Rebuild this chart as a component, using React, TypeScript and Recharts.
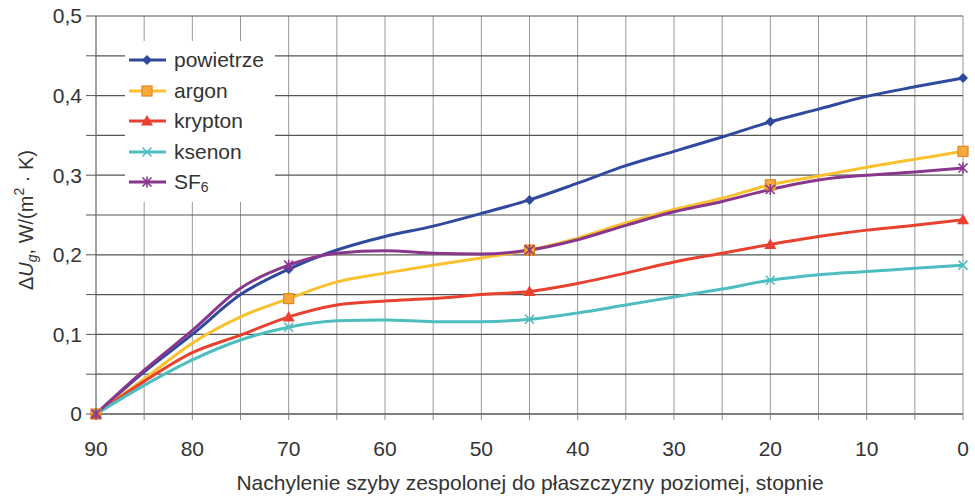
import { LineChart, Line, XAxis, YAxis, CartesianGrid, Legend } from "recharts";

const angles = [90, 85, 80, 75, 70, 65, 60, 55, 50, 45, 40, 35, 30, 25, 20, 15, 10, 5, 0];
const powietrze = [0, 0.053, 0.1, 0.15, 0.182, 0.206, 0.223, 0.236, 0.252, 0.269, 0.29, 0.312, 0.33, 0.348, 0.367, 0.383, 0.399, 0.411, 0.422];
const argon = [0, 0.044, 0.089, 0.122, 0.145, 0.166, 0.177, 0.187, 0.196, 0.206, 0.221, 0.24, 0.257, 0.271, 0.288, 0.299, 0.31, 0.32, 0.33];
const krypton = [0, 0.041, 0.077, 0.099, 0.122, 0.137, 0.142, 0.145, 0.15, 0.154, 0.164, 0.177, 0.191, 0.202, 0.213, 0.223, 0.231, 0.237, 0.244];
const ksenon = [0, 0.036, 0.068, 0.093, 0.109, 0.117, 0.118, 0.116, 0.116, 0.119, 0.127, 0.137, 0.147, 0.157, 0.168, 0.175, 0.179, 0.183, 0.187];
const sf6 = [0, 0.055, 0.105, 0.158, 0.187, 0.202, 0.205, 0.202, 0.201, 0.206, 0.219, 0.237, 0.254, 0.267, 0.282, 0.294, 0.3, 0.304, 0.309];

// only these angles carry a marker in the original
const markerAngles = [90, 70, 45, 20, 0];
const xTicks = [90, 85, 80, 75, 70, 65, 60, 55, 50, 45, 40, 35, 30, 25, 20, 15, 10, 5, 0];
const yTicks = [0, 0.05, 0.1, 0.15, 0.2, 0.25, 0.3, 0.35, 0.4, 0.45, 0.5];

const data = angles.map((angle, i) => ({
  angle,
  powietrze: powietrze[i],
  argon: argon[i],
  krypton: krypton[i],
  ksenon: ksenon[i],
  sf6: sf6[i],
}));

const series = [
  { key: "powietrze", name: "powietrze", color: "#2f4a9d", shape: "diamond" },
  { key: "argon", name: "argon", color: "#fbc02d", shape: "square" },
  { key: "krypton", name: "krypton", color: "#e8412f", shape: "triangle" },
  { key: "ksenon", name: "ksenon", color: "#4dbdbf", shape: "cross" },
  { key: "sf6", name: "SF6", color: "#88378d", shape: "star" },
];

const Marker = ({ shape, x, y, color }: { shape: string; x: number; y: number; color: string }) => {
  if (shape === "diamond")
    return <polygon points={`${x},${y - 5} ${x + 5},${y} ${x},${y + 5} ${x - 5},${y}`} fill={color} />;
  if (shape === "square")
    return <rect x={x - 5} y={y - 5} width={10} height={10} fill="#f8a93c" stroke="#e3861c" strokeWidth={1.2} />;
  if (shape === "triangle")
    return <polygon points={`${x},${y - 6} ${x + 6},${y + 4.5} ${x - 6},${y + 4.5}`} fill={color} />;
  if (shape === "cross")
    return (
      <g stroke={color} strokeWidth={1.6}>
        <line x1={x - 4.5} y1={y - 4.5} x2={x + 4.5} y2={y + 4.5} />
        <line x1={x - 4.5} y1={y + 4.5} x2={x + 4.5} y2={y - 4.5} />
      </g>
    );
  return (
    <g stroke={color} strokeWidth={1.6}>
      <line x1={x - 4.5} y1={y - 4.5} x2={x + 4.5} y2={y + 4.5} />
      <line x1={x - 4.5} y1={y + 4.5} x2={x + 4.5} y2={y - 4.5} />
      <line x1={x} y1={y - 5.5} x2={x} y2={y + 5.5} />
    </g>
  );
};

const makeDot = (shape: string, color: string) => (props: any) => {
  const { cx, cy, payload, index } = props;
  if (!markerAngles.includes(payload.angle)) return <g key={index} />;
  return (
    <g key={index}>
      <Marker shape={shape} x={cx} y={cy} color={color} />
    </g>
  );
};

const fmtX = (v: number) => (v % 10 === 0 ? String(v) : "");
const fmtY = (v: number) => {
  const k = Math.round(v * 100);
  if (k % 10 !== 0) return "";
  if (k === 0) return "0";
  return (k / 100).toFixed(1).replace(".", ",");
};

const renderLegend = () => (
  <div style={{ background: "#fff", padding: "4px 2px", width: 146 }}>
    {series.map((s) => (
      <div key={s.key} style={{ display: "flex", alignItems: "center", height: 30.5 }}>
        <svg width={42} height={14}>
          <line x1={2} y1={7} x2={39} y2={7} stroke={s.color} strokeWidth={3} />
          <Marker shape={s.shape} x={20} y={7} color={s.color} />
        </svg>
        <span style={{ fontSize: 21, color: "#333", marginLeft: 5 }}>
          {s.key === "sf6" ? (
            <>
              SF<sub style={{ fontSize: 14, verticalAlign: "-3px" }}>6</sub>
            </>
          ) : (
            s.name
          )}
        </span>
      </div>
    ))}
  </div>
);

const YTitle = () => (
  <text transform="translate(33,220) rotate(-90)" textAnchor="middle" fontSize={20} fill="#333">
    <tspan>Δ</tspan>
    <tspan fontStyle="italic">U</tspan>
    <tspan fontStyle="italic" fontSize={14} dy={4}>g</tspan>
    <tspan dy={-4}>, W/(m</tspan>
    <tspan fontSize={14} dy={-9}>2</tspan>
    <tspan dy={9}> · K)</tspan>
  </text>
);

const XTitle = () => (
  <text x={530} y={490} textAnchor="middle" fontSize={21} fill="#333">
    Nachylenie szyby zespolonej do płaszczyzny poziomej, stopnie
  </text>
);

export default function App() {
  return (
    <div style={{ position: "absolute", left: 0, top: 0, fontFamily: "'Liberation Sans', Arial, sans-serif", background: "#fff" }}>
      <LineChart width={975} height={496} data={data} margin={{ top: 16, right: 12, left: 0, bottom: 0 }}>
        <CartesianGrid horizontal={false} stroke="#999" strokeWidth={1} />
        <CartesianGrid vertical={false} stroke="#555" strokeWidth={1.2} />
        <XAxis
          dataKey="angle"
          type="number"
          domain={[0, 90]}
          reversed
          ticks={xTicks}
          interval={0}
          tickFormatter={fmtX}
          height={82}
          tickSize={6}
          tickMargin={21}
          axisLine={{ stroke: "#555" }}
          tickLine={{ stroke: "#888" }}
          tick={{ fontSize: 21, fill: "#333" }}
          label={{ content: XTitle }}
        />
        <YAxis
          type="number"
          domain={[0, 0.5]}
          ticks={yTicks}
          interval={0}
          tickFormatter={fmtY}
          width={96}
          tickSize={10}
          tickMargin={4}
          axisLine={{ stroke: "#777" }}
          tickLine={{ stroke: "#555" }}
          tick={{ fontSize: 21, fill: "#333" }}
          label={{ content: YTitle }}
        />
        <Legend
          layout="vertical"
          align="center"
          verticalAlign="middle"
          content={renderLegend}
          wrapperStyle={{ left: 125, top: 41, width: 150 }}
        />
        {series.map((s) => (
          <Line
            key={s.key}
            type="monotone"
            dataKey={s.key}
            name={s.name}
            stroke={s.color}
            strokeWidth={3}
            dot={makeDot(s.shape, s.color)}
            activeDot={false}
            isAnimationActive={false}
          />
        ))}
      </LineChart>
    </div>
  );
}
